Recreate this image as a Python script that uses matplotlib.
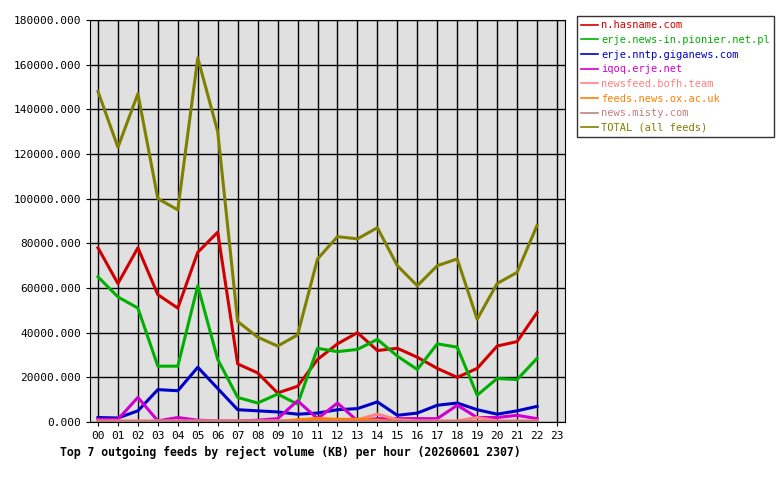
import matplotlib
matplotlib.use("Agg")
import matplotlib.pyplot as plt
from matplotlib.ticker import FuncFormatter

plt.rcParams['font.family'] = 'DejaVu Sans Mono'

hours = list(range(23))
hour_labels = ["%02d" % h for h in range(24)]

names = ["n.hasname.com", "erje.news-in.pionier.net.pl", "erje.nntp.giganews.com",
         "iqoq.erje.net", "newsfeed.bofh.team", "feeds.news.ox.ac.uk",
         "news.misty.com", "TOTAL (all feeds)"]
colors = ["#d00000", "#00b000", "#0000c8", "#d000d0", "#ff8080", "#ff8000",
          "#c08080", "#808000"]

hasname = [78000, 62000, 78000, 57000, 51000, 76000, 85000, 26000, 22000, 13000, 16000, 28000,
           35000, 40000, 32000, 33000, 29000, 24000, 20000, 24000, 34000, 36000, 49000]
pionier = [65000, 56000, 51000, 25000, 25000, 61000, 28000, 11000, 8500, 12500, 8000, 33000,
           31500, 32500, 37000, 29500, 23500, 35000, 33500, 12000, 19500, 19000, 28500]
giganews = [2000, 1800, 5000, 14500, 14000, 24500, 15000, 5500, 5000, 4500, 3500, 4000,
            5500, 6000, 9000, 3000, 4000, 7500, 8500, 5500, 3500, 5000, 7000]
iqoq = [1200, 1200, 11000, 500, 2000, 800, 500, 500, 800, 1500, 9500, 1500,
        8500, 500, 1500, 1500, 1500, 1500, 7500, 2000, 2000, 3000, 1500]
bofh = [500, 500, 500, 500, 500, 500, 500, 500, 500, 500, 500, 1500,
        1000, 1000, 3500, 1000, 500, 500, 500, 2000, 500, 500, 500]
ox = [200, 200, 200, 200, 200, 200, 200, 200, 200, 200, 1000, 1500,
      1200, 1200, 800, 200, 200, 200, 200, 200, 200, 200, 200]
misty = [500, 500, 500, 500, 500, 500, 500, 500, 500, 500, 500, 500,
         500, 500, 500, 500, 500, 500, 500, 500, 500, 500, 500]
total = [148000, 123000, 147000, 100000, 95000, 163000, 130000, 45000, 38000, 34000, 39000, 73000,
         83000, 82000, 87000, 70000, 61000, 70000, 73000, 46000, 62000, 67000, 88000]

series = [hasname, pionier, giganews, iqoq, bofh, ox, misty, total]

fig = plt.figure(figsize=(7.8, 4.8), dpi=100)
ax = fig.add_axes([90/780, 58/480, 475/780, 402/480])
ax.set_facecolor("#e0e0e0")
for vals, c, n in zip(series, colors, names):
    ax.plot(hours, vals, color=c, lw=2.2, label=n)

ax.set_xlim(-0.4, 23.4)
ax.set_ylim(0, 180000)
ax.set_xticks(range(24))
ax.set_xticklabels(hour_labels)
ax.set_yticks(range(0, 180001, 20000))
ax.yaxis.set_major_formatter(FuncFormatter(lambda v, p: "%d.000" % v))
ax.tick_params(labelsize=8, length=3)
ax.grid(True, color="black", lw=1)
ax.set_axisbelow(True)

leg = ax.legend(loc="upper left", bbox_to_anchor=(577/780, 464/480), bbox_transform=fig.transFigure,
                fontsize=7.5, frameon=True, fancybox=False, edgecolor="black",
                handlelength=1.6, handletextpad=0.3, borderpad=0.4, labelspacing=0.45,
                borderaxespad=0)
leg.get_frame().set_linewidth(1)
for line, txt, c in zip(leg.get_lines(), leg.get_texts(), colors):
    line.set_linewidth(1.2)
    txt.set_color(c)

fig.text(60/780, 28/480, "Top 7 outgoing feeds by reject volume (KB) per hour (20260601 2307)",
         fontsize=8.3, fontweight="bold", va="center")
fig.savefig("out.png", dpi=100)
